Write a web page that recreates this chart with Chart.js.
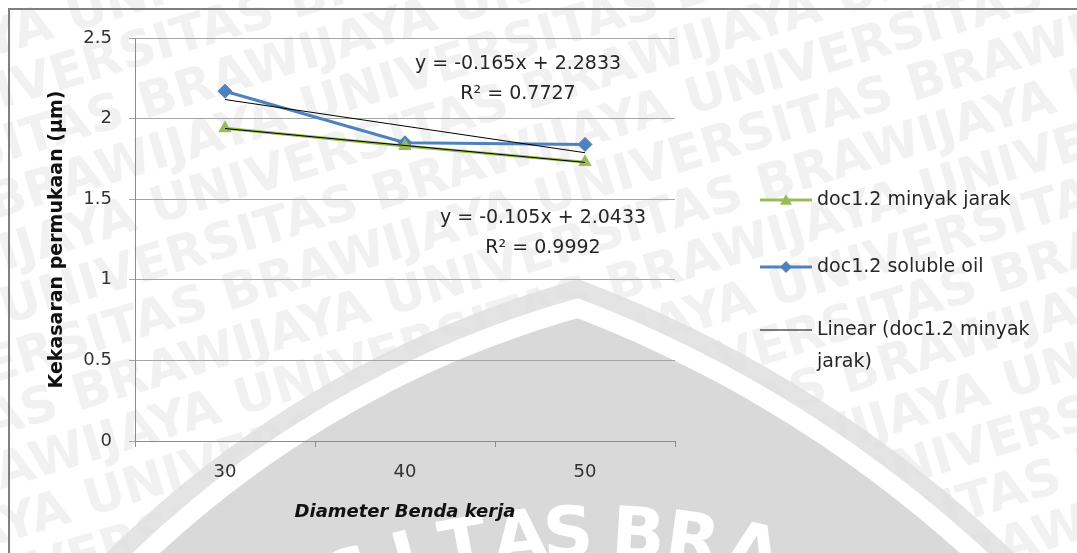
<!DOCTYPE html>
<html>
<head>
<meta charset="utf-8">
<script src="https://cdn.jsdelivr.net/npm/chart.js@4.4.1/dist/chart.umd.min.js"></script>
<style>
  html, body { margin: 0; padding: 0; background: #fff; }
  #wrap { width: 1077px; height: 553px; position: relative; }
</style>
</head>
<body>
<div id="wrap"><canvas id="c"></canvas></div>
<script>
// Surface roughness vs workpiece diameter
const categories = ['30', '40', '50'];
const minyakJarak = [1.94, 1.83, 1.73];
const solubleOil = [2.17, 1.85, 1.84];
const seriesNames = ['doc1.2 minyak jarak', 'doc1.2 soluble oil'];
const trendSlopes = [-0.105, -0.165];
const trendIntercepts = [2.0433, 2.2833];
const trendR2 = [0.9992, 0.7727];
const yAxisTitle = 'Kekasaran permukaan (µm)';
const xAxisTitle = 'Diameter Benda kerja';
const watermarkPhrase = 'UNIVERSITAS BRAWIJAYA ';
const sealLetters = ['S', 'I', 'T', 'A', 'S', 'B', 'R', 'A'];

const GREEN = '#9bbb59';
const BLUE = '#4f81bd';
const FONT = '"DejaVu Sans", sans-serif';

// Excel-style linear trendline: y = slope * x + intercept, x = 1..n
function trendValues(s) {
  return categories.map((_, i) => +(trendSlopes[s] * (i + 1) + trendIntercepts[s]).toFixed(4));
}
function equationText(s) {
  const sign = trendIntercepts[s] < 0 ? '-' : '+';
  return ['y = ' + trendSlopes[s] + 'x ' + sign + ' ' + Math.abs(trendIntercepts[s]),
          'R² = ' + trendR2[s]];
}

// Background seal and repeated campus text
const sealPlugin = {
  id: 'seal',
  beforeDraw(chart) {
    const ctx = chart.ctx;
    ctx.save();
    ctx.fillStyle = '#fff';
    ctx.fillRect(0, 0, chart.width, chart.height);

    function arch(grow, color) {
      ctx.save();
      ctx.beginPath();
      ctx.arc(858, 1305, 1026 + grow, 0, Math.PI * 2);
      ctx.clip();
      ctx.beginPath();
      ctx.arc(134.5, 1469, 1233 + grow, 0, Math.PI * 2);
      ctx.fillStyle = color;
      ctx.fill();
      ctx.restore();
    }
    arch(37, '#e4e4e4');

    ctx.save();
    ctx.rotate(-17 * Math.PI / 180);
    ctx.font = 'bold 50px ' + FONT;
    ctx.fillStyle = 'rgba(225,225,225,0.45)';
    const w = ctx.measureText(watermarkPhrase).width;
    for (let k = -8; k < 26; k++) {
      const y = k * 52;
      const x0 = -1200 - ((k * 173) % w);
      for (let x = x0; x < 1900; x += w) ctx.fillText(watermarkPhrase, x, y);
    }
    ctx.restore();

    arch(19, '#ffffff');
    arch(0, '#d9d9d9');

    // curved lettering on the seal
    const cx = 595, cy = 1253, R = 750;
    const xs = [340, 398, 458, 517, 567, 640, 697, 760];
    ctx.font = 'bold 70px ' + FONT;
    ctx.fillStyle = '#ffffff';
    ctx.textAlign = 'center';
    ctx.textBaseline = 'top';
    sealLetters.forEach((ch, i) => {
      const th = Math.asin((xs[i] - cx) / R);
      ctx.save();
      ctx.translate(cx + R * Math.sin(th), cy - R * Math.cos(th));
      ctx.rotate(th);
      ctx.fillText(ch, 0, 0);
      ctx.restore();
    });

    // outer frame
    ctx.strokeStyle = '#7f7f7f';
    ctx.lineWidth = 2;
    ctx.beginPath();
    ctx.moveTo(9, chart.height);
    ctx.lineTo(9, 9);
    ctx.lineTo(chart.width, 9);
    ctx.stroke();
    ctx.restore();
  }
};

// Trendline equations and the legend on the right
const notesPlugin = {
  id: 'notes',
  afterDraw(chart) {
    const ctx = chart.ctx;
    const a = chart.chartArea;
    ctx.save();
    ctx.font = '19px ' + FONT;
    ctx.fillStyle = '#262626';
    ctx.textAlign = 'center';
    ctx.textBaseline = 'middle';
    const eqPos = [[a.left + 408, a.top + 180], [a.left + 383, a.top + 26]];
    [1, 0].forEach(s => {
      const lines = equationText(s);
      ctx.fillText(lines[0], eqPos[s][0], eqPos[s][1]);
      ctx.fillText(lines[1], eqPos[s][0], eqPos[s][1] + 30);
    });

    // legend
    const lx0 = 760, lx1 = 812, tx = 817, maxW = 236;
    const rows = [200, 267, 330];
    const items = chart.data.datasets.filter(d => d.inLegend);
    ctx.textAlign = 'left';
    items.forEach((d, i) => {
      const y = rows[i];
      ctx.strokeStyle = d.borderColor;
      ctx.lineWidth = d.borderWidth;
      ctx.beginPath();
      ctx.moveTo(lx0, y);
      ctx.lineTo(lx1, y);
      ctx.stroke();
      const mx = (lx0 + lx1) / 2, r = 6;
      ctx.fillStyle = d.pointBackgroundColor;
      if (d.pointStyle === 'triangle') {
        ctx.beginPath();
        ctx.moveTo(mx, y - r);
        ctx.lineTo(mx + r, y + r * 0.8);
        ctx.lineTo(mx - r, y + r * 0.8);
        ctx.closePath();
        ctx.fill();
      } else if (d.pointStyle === 'rectRot') {
        ctx.beginPath();
        ctx.moveTo(mx, y - r);
        ctx.lineTo(mx + r, y);
        ctx.lineTo(mx, y + r);
        ctx.lineTo(mx - r, y);
        ctx.closePath();
        ctx.fill();
      }
      // simple word wrap
      ctx.fillStyle = '#262626';
      const words = d.label.split(' ');
      const lines = [];
      let cur = '';
      words.forEach(wd => {
        const t = cur ? cur + ' ' + wd : wd;
        if (ctx.measureText(t).width > maxW && cur) { lines.push(cur); cur = wd; }
        else cur = t;
      });
      lines.push(cur);
      lines.forEach((ln, j) => ctx.fillText(ln, tx, y + j * 32));
    });
    ctx.restore();
  }
};

const datasets = [
  {
    label: seriesNames[0], data: minyakJarak, inLegend: true,
    borderColor: GREEN, backgroundColor: GREEN, borderWidth: 3,
    pointStyle: 'triangle', pointRadius: 7, pointBackgroundColor: GREEN,
    pointBorderColor: GREEN, pointBorderWidth: 1, order: 2, tension: 0
  },
  {
    label: seriesNames[1], data: solubleOil, inLegend: true,
    borderColor: BLUE, backgroundColor: BLUE, borderWidth: 3,
    pointStyle: 'rectRot', pointRadius: 7, pointBackgroundColor: BLUE,
    pointBorderColor: BLUE, pointBorderWidth: 1, order: 2, tension: 0
  },
  {
    label: 'Linear (' + seriesNames[0] + ')', data: trendValues(0), inLegend: true,
    borderColor: '#000000', borderWidth: 1, pointRadius: 0, order: 1, tension: 0
  },
  {
    label: 'Linear (' + seriesNames[1] + ')', data: trendValues(1), inLegend: false,
    borderColor: '#000000', borderWidth: 1, pointRadius: 0, order: 1, tension: 0
  }
];

new Chart(document.getElementById('c'), {
  type: 'line',
  data: { labels: categories, datasets },
  plugins: [sealPlugin, notesPlugin],
  options: {
    responsive: true,
    maintainAspectRatio: false,
    animation: false,
    events: [],
    layout: { padding: { left: 42, right: 402, top: 38, bottom: 26 } },
    plugins: { legend: { display: false }, tooltip: { enabled: false } },
    scales: {
      x: {
        offset: true,
        afterFit(scale) { scale.height = 86; },
        grid: { display: true, drawOnChartArea: false, drawTicks: true, tickLength: 6, color: '#8c8c8c', offset: true },
        border: { display: true, color: '#8c8c8c', width: 1 },
        ticks: { font: { family: FONT, size: 18 }, color: '#333333', padding: 15 },
        title: { display: true, text: xAxisTitle, color: '#111111',
                 font: { family: FONT, size: 18, weight: 'bold', style: 'italic' } }
      },
      y: {
        min: 0, max: 2.5,
        afterFit(scale) { scale.width = 93; },
        grid: { color: '#a6a6a6', tickLength: 6, drawTicks: true },
        border: { display: true, color: '#8c8c8c', width: 1 },
        ticks: { stepSize: 0.5, font: { family: FONT, size: 18 }, color: '#333333', padding: 17,
                 callback: v => String(v) },
        title: { display: true, text: yAxisTitle, color: '#111111',
                 font: { family: FONT, size: 19, weight: 'bold' } }
      }
    }
  }
});
</script>
</body>
</html>
